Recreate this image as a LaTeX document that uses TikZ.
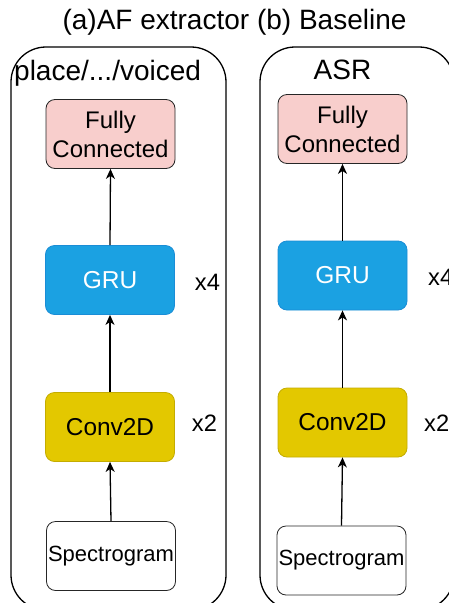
\documentclass[tikz,border=0pt]{standalone}
\usepackage{fontspec}
\setmainfont{Liberation Sans}
\usetikzlibrary{arrows.meta}

\definecolor{fcfill}{HTML}{F8CECC}
\definecolor{grufill}{HTML}{1BA1E2}
\definecolor{grustroke}{HTML}{1A8DD6}
\definecolor{convfill}{HTML}{E3C800}
\definecolor{convstroke}{HTML}{C4AC00}

\tikzset{
  container/.style={draw=black, line width=1.3pt, rounded corners=35pt,
    minimum width=#1, minimum height=563pt, inner sep=0pt},
  block/.style={rounded corners=9pt, minimum width=129pt, minimum height=69pt,
    inner sep=0pt, align=center, line width=0.8pt},
  fcbox/.style={block, draw=black!85, fill=fcfill,
    font=\fontsize{24}{29}\selectfont},
  grubox/.style={block, draw=grustroke, fill=grufill, text=white,
    font=\fontsize{24.5}{29}\selectfont},
  convbox/.style={block, draw=convstroke, fill=convfill,
    font=\fontsize{24.4}{29}\selectfont},
  specbox/.style={block, draw=black!85, fill=white,
    font=\fontsize{22}{26}\selectfont},
  repeatlbl/.style={font=\fontsize{23.7}{28}\selectfont, inner sep=0pt},
  headlbl/.style={font=\fontsize{28}{32}\selectfont, inner sep=0pt},
  flow/.style={-{Stealth[length=10pt,width=9pt,inset=3pt]}, line width=1.3pt},
}

\begin{document}
\begin{tikzpicture}[x=1pt,y=-1pt]
  \useasboundingbox (0,0) rectangle (449,603);
  \fill[white] (0,0) rectangle (449,603);

  % title
  \node[font=\fontsize{28}{32}\selectfont, inner sep=0pt] (title) at (234.5,22) {(a)AF extractor (b) Baseline};

  % outer frames
  \node[container=215pt] (frameA) at (118.5,328.5) {};
  \node[container=194pt] (frameB) at (357,328.5) {};

  \node[headlbl, anchor=west] (headA) at (14,73) {place/.../voiced};
  \node[headlbl] (headB) at (342.5,70) {ASR};

  % left column
  \node[fcbox]   (fcA)   at (110.5,134) {Fully\\Connected};
  \node[grubox]  (gruA)  at (110,280)   {GRU};
  \node[convbox] (convA) at (110,427)   {Conv2D};
  \node[specbox] (specA) at (111,556)   {Spectrogram};
  \node[repeatlbl] (repA1) at (207.5,282) {x4};
  \node[repeatlbl] (repA2) at (204.5,423) {x2};

  % right column
  \node[fcbox]   (fcB)   at (342.5,129)   {Fully\\Connected};
  \node[grubox]  (gruB)  at (342.5,275.5) {GRU};
  \node[convbox] (convB) at (342.5,422.5) {Conv2D};
  \node[specbox] (specB) at (341.5,560.5) {Spectrogram};
  \node[repeatlbl, anchor=west] (repB1) at (428,277) {x4};
  \node[repeatlbl, anchor=west] (repB2) at (424,423) {x2};

  % data flow
  \draw[flow] (specA.north) -- (convA.south);
  \draw[flow] (convA.north) -- (gruA.south);
  \draw[flow] (gruA.north) -- (fcA.south);
  \draw[flow] (specB.north) -- (convB.south);
  \draw[flow] (convB.north) -- (gruB.south);
  \draw[flow] (gruB.north) -- (fcB.south);
\end{tikzpicture}
\end{document}
